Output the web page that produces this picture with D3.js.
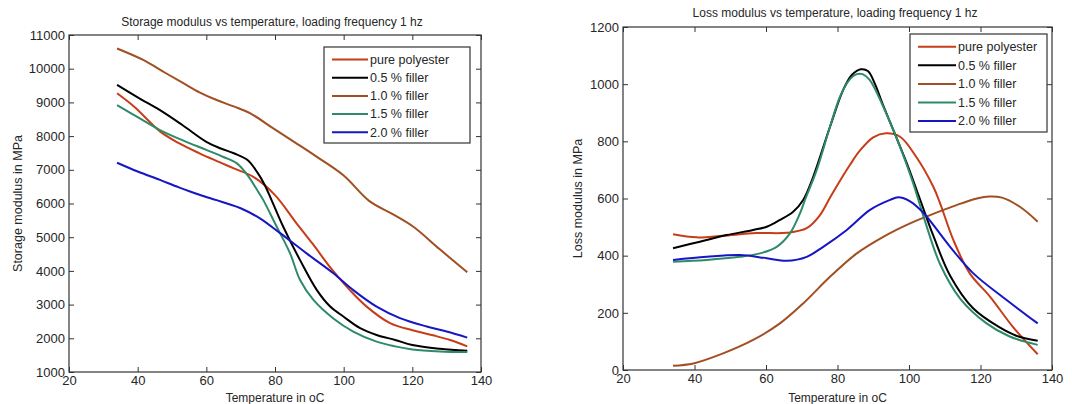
<!DOCTYPE html>
<html>
<head>
<meta charset="utf-8">
<script src="https://cdn.jsdelivr.net/npm/d3@7/dist/d3.min.js"></script>
<style>
  html, body { margin: 0; padding: 0; background: #fff; }
  svg { display: block; }
  text { font-family: "Liberation Sans", Arial, Helvetica, sans-serif; fill: #262626; }
</style>
</head>
<body>
<svg id="fig" width="1072" height="404"></svg>
<script>
// Series names and colours (shared by both panels)
const seriesNames = ["pure polyester", "0.5 % filler", "1.0 % filler", "1.5 % filler", "2.0 % filler"];
const seriesColors = ["#c63d17", "#000000", "#a14f22", "#2e8a68", "#1616c4"];

// Axis ticks
const tempTicks = [20, 40, 60, 80, 100, 120, 140];
const storageTicks = [1000, 2000, 3000, 4000, 5000, 6000, 7000, 8000, 9000, 10000, 11000];
const lossTicks = [0, 200, 400, 600, 800, 1000, 1200];

// Storage modulus (MPa) vs temperature (°C): [T, E']
const storagePure = [[34,9270],[39,8870],[46.5,8140],[52,7790],[58,7490],[64,7220],[68,7040],[73.7,6790],[80,6250],[86,5450],[91,4800],[96.5,4050],[101.8,3430],[106.7,2940],[113.5,2450],[120,2240],[126,2090],[131,1950],[136,1760]];
const storage05 = [[34,9520],[40,9150],[46.5,8770],[53,8330],[60,7830],[64,7640],[68,7490],[72,7290],[75,6900],[77,6550],[79,6100],[82.4,5310],[87.3,4320],[92.2,3430],[96,2950],[100,2640],[104.8,2300],[109.6,2100],[115,1950],[120,1800],[128,1690],[136,1630]];
const storage10 = [[34,10600],[41.6,10260],[48,9880],[53.3,9570],[58,9300],[63,9070],[68,8880],[72.7,8680],[79.5,8230],[86,7800],[92.1,7390],[100,6830],[107.5,6070],[114,5700],[120.3,5310],[128,4640],[136,3960]];
const storage15 = [[34,8920],[40,8560],[46.5,8180],[53,7880],[60,7590],[65,7380],[68.9,7190],[72.3,6800],[74.5,6450],[76.6,6100],[80.5,5310],[84.4,4520],[87.3,3730],[91.2,3140],[97,2590],[102.8,2200],[109.6,1900],[115,1760],[120,1670],[128,1610],[136,1590]];
const storage20 = [[34,7210],[40,6950],[46.5,6700],[52,6480],[58,6260],[63,6100],[66,6000],[70,5860],[75.6,5560],[81.5,5120],[89.2,4520],[97,3930],[102.8,3430],[109.6,2940],[116.4,2600],[124.2,2350],[130,2200],[136,2020]];

// Loss modulus (MPa) vs temperature (°C): [T, E'']
const lossPure = [[34,475],[40.6,464],[48,470],[57.4,479],[65.8,480],[71.4,496],[75,540],[78,605],[80.7,662],[83.5,718],[86.3,768],[90,814],[93.5,828],[97.5,816],[102,746],[106.8,641],[108.7,583],[112.4,455],[117,338],[122.7,256],[129,152],[136,55]];
const loss05 = [[34,426],[41.5,449],[49,472],[56.4,490],[60.2,501],[63.9,525],[67.6,554],[70.4,595],[73.2,676],[77.9,851],[81.6,980],[84,1032],[86.5,1052],[88.5,1046],[90.5,1000],[92.5,935],[95.6,840],[99.4,723],[103,600],[106.8,470],[111.5,330],[118,215],[125.5,148],[130,120],[136,102]];
const loss10 = [[34,15],[39.7,23],[48,58],[56.4,105],[63.9,163],[70.4,233],[77.9,326],[85.4,408],[92.8,466],[100.3,513],[105.9,542],[113.3,577],[119,600],[122.5,607],[126,603],[131,571],[136,519]];
const loss15 = [[34,379],[43.4,385],[52.7,396],[58.3,408],[63,431],[66.7,478],[69.5,548],[70.9,595],[74.2,700],[77.9,851],[80.7,956],[83,1010],[85.4,1035],[87,1035],[89,1015],[92.8,921],[97.5,781],[101,660],[104.5,520],[108.7,370],[114.3,250],[121.7,163],[128,118],[136,88]];
const loss20 = [[34,385],[43.4,396],[52.7,402],[60.2,391],[65.8,382],[71.4,396],[76,431],[82.6,490],[89.1,560],[94.7,595],[97,604],[100.3,590],[104,550],[111.5,431],[118,338],[127.3,245],[136,163]];

const svg = d3.select("#fig");

function drawPanel(cfg) {
  const x = d3.scaleLinear().domain([20, 140]).range([cfg.left, cfg.right]);
  const y = d3.scaleLinear().domain(cfg.yDomain).range([cfg.bottom, cfg.top]);
  const g = svg.append("g");
  const tickLen = 5;

  // frame
  g.append("rect")
    .attr("x", cfg.left).attr("y", cfg.top)
    .attr("width", cfg.right - cfg.left).attr("height", cfg.bottom - cfg.top)
    .attr("fill", "none").attr("stroke", "#333").attr("stroke-width", 1.2);

  const styleAxis = sel => {
    sel.select(".domain").remove();
    sel.selectAll(".tick line").attr("stroke", "#333");
    sel.selectAll(".tick text").style("font-size", "13px").attr("fill", "#262626");
  };

  // inward ticks on all four sides, labels bottom and left
  g.append("g").attr("transform", `translate(0,${cfg.bottom})`)
    .call(d3.axisBottom(x).tickValues(tempTicks).tickSizeInner(-tickLen).tickSizeOuter(0).tickPadding(4).tickFormat(d3.format("d")))
    .call(styleAxis);
  g.append("g").attr("transform", `translate(0,${cfg.top})`)
    .call(d3.axisTop(x).tickValues(tempTicks).tickSizeInner(-tickLen).tickSizeOuter(0).tickFormat(""))
    .call(styleAxis);
  g.append("g").attr("transform", `translate(${cfg.left},0)`)
    .call(d3.axisLeft(y).tickValues(cfg.yTicks).tickSizeInner(-tickLen).tickSizeOuter(0).tickPadding(4).tickFormat(d3.format("d")))
    .call(styleAxis);
  g.append("g").attr("transform", `translate(${cfg.right},0)`)
    .call(d3.axisRight(y).tickValues(cfg.yTicks).tickSizeInner(-tickLen).tickSizeOuter(0).tickFormat(""))
    .call(styleAxis);

  // curves
  const line = d3.line().x(d => x(d[0])).y(d => y(d[1])).curve(d3.curveCatmullRom.alpha(0.5));
  cfg.series.forEach((s, i) => {
    g.append("path").datum(s)
      .attr("d", line)
      .attr("fill", "none")
      .attr("stroke", seriesColors[i])
      .attr("stroke-width", 2)
      .attr("stroke-linejoin", "round");
  });

  // title and axis labels
  g.append("text").attr("x", cfg.titleX).attr("y", cfg.titleY)
    .attr("text-anchor", "middle").style("font-size", "12px").text(cfg.title);
  g.append("text").attr("x", (cfg.left + cfg.right) / 2).attr("y", 402)
    .attr("text-anchor", "middle").style("font-size", "12px").text("Temperature in oC");
  g.append("text")
    .attr("transform", `translate(${cfg.yLabelX},${(cfg.top + cfg.bottom) / 2}) rotate(-90)`)
    .attr("text-anchor", "middle").style("font-size", "12.5px").text(cfg.yLabel);

  // legend
  const L = cfg.legend;
  g.append("rect").attr("x", L.x).attr("y", L.y).attr("width", L.w).attr("height", L.h)
    .attr("fill", "#fff").attr("stroke", "#333").attr("stroke-width", 1.2);
  seriesNames.forEach((name, i) => {
    const ry = L.y + L.first + i * L.step;
    g.append("line").attr("x1", L.x + 8).attr("x2", L.x + 8 + L.lineLen)
      .attr("y1", ry).attr("y2", ry)
      .attr("stroke", seriesColors[i]).attr("stroke-width", 2);
    g.append("text").attr("x", L.x + 10 + L.lineLen).attr("y", ry)
      .attr("dy", "0.35em").style("font-size", "12.5px").text(name);
  });
}

drawPanel({
  left: 69, right: 481, top: 35, bottom: 372,
  yDomain: [1000, 11000], yTicks: storageTicks,
  series: [storagePure, storage05, storage10, storage15, storage20],
  title: "Storage modulus vs temperature, loading frequency 1 hz",
  titleX: 272, titleY: 26,
  yLabel: "Storage modulus in MPa", yLabelX: 22,
  legend: { x: 324, y: 47, w: 146, h: 96, first: 12.5, step: 18.2, lineLen: 36 }
});

drawPanel({
  left: 623, right: 1052, top: 27, bottom: 370,
  yDomain: [0, 1200], yTicks: lossTicks,
  series: [lossPure, loss05, loss10, loss15, loss20],
  title: "Loss modulus vs temperature, loading frequency 1 hz",
  titleX: 835, titleY: 17,
  yLabel: "Loss modulus in MPa", yLabelX: 582,
  legend: { x: 910, y: 34, w: 137, h: 98, first: 12.7, step: 18.6, lineLen: 38 }
});
</script>
</body>
</html>
